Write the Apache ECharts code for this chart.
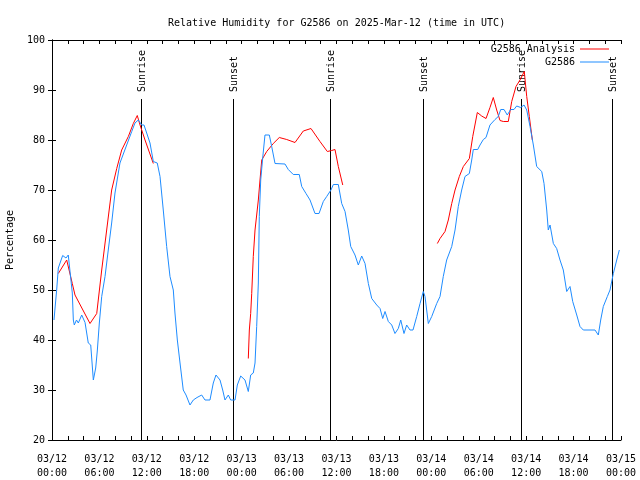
<!DOCTYPE html>
<html><head><meta charset="utf-8">
<script src="https://cdn.jsdelivr.net/npm/echarts@6/dist/echarts.min.js"></script>
<style>html,body{margin:0;padding:0;background:#fff}#c{width:640px;height:480px}</style>
</head><body><div id="c"></div>
<script>
// Hours since 2025-03-12 00:00 UTC
const obsHours = [0.25,0.59,0.80,1.35,1.77,2.06,2.28,2.57,2.70,2.82,3.10,3.33,3.76,4.18,4.59,4.90,5.23,5.53,5.73,5.99,6.29,6.49,6.71,7.12,7.55,7.97,8.60,9.45,10.09,10.50,10.92,11.35,11.64,11.98,12.40,12.82,13.32,13.67,14.08,14.51,14.93,15.35,15.56,15.86,16.20,16.61,16.96,17.46,17.88,18.35,18.94,19.36,19.99,20.41,20.75,21.26,21.60,21.89,22.31,22.61,23.16,23.45,23.88,24.42,24.84,25.14,25.47,25.69,25.90,26.11,26.23,26.41,26.66,26.95,27.50,27.80,28.22,29.48,29.90,30.53,31.29,31.60,32.14,32.65,33.28,33.79,34.33,34.76,35.30,35.60,36.23,36.66,37.08,37.49,37.80,38.34,38.76,39.19,39.61,40.03,40.46,41.09,41.51,41.85,42.14,42.56,42.99,43.40,43.82,44.13,44.54,44.88,45.30,45.68,46.15,46.57,46.98,47.20,47.62,48.05,48.68,49.10,49.51,49.94,50.58,51.00,51.41,51.84,52.26,52.81,53.11,53.31,53.87,54.16,54.58,54.92,55.42,56.06,56.47,56.78,57.20,57.61,58.04,58.46,58.80,59.31,59.73,60.07,60.49,60.91,61.33,61.97,62.26,62.60,62.80,63.02,63.44,63.86,64.28,64.70,65.13,65.55,65.89,66.40,66.81,67.23,68.71,69.13,69.43,69.76,70.27,70.61,71.03,71.46,71.79];
const obsValues = [44,50,54.4,56.9,56.4,57,57,49.4,44,43,44,43.4,45,43.5,39.4,39,32,34.4,37.8,43.4,48.7,48.7,52.7,58,63.4,69.4,75.4,79,81.7,83.4,84,83,83,81.4,79.4,75.7,75.4,72.7,66,58.7,52.7,50,45.4,40,35.4,30,29,27,28,28.5,29,28,28,31.4,33,32,30,28,29,28,28,31,32.8,32,29.7,33,33.4,35.4,42.7,51.4,64.7,72,76.4,81,81,78.7,75.3,75.2,74.1,73.1,73.1,70.7,69.3,68,65.3,65.3,67.7,68.7,70,71.1,71.1,67.3,65.7,62,58.7,57,55,56.8,55.3,51.3,48.3,47,46.3,44.3,45.7,43.7,43,41.3,42.3,44,41.3,43,42,42,44.7,47.3,49.7,48.7,43.3,44.7,47.3,48.7,52.7,56,58.7,62,66.7,70,72.7,73.3,76,78.1,78.1,79,80.1,80.5,83,84.1,84.7,86.1,86.1,85,86.1,86.1,86.8,86.5,87,86,82.7,79,74.7,73.7,71.3,66,62,63,59.3,58.3,56,54,49.7,50.7,47.7,45,42.7,42,42,41,44,46.7,48.7,50,53.3,56,58];

// Analysis (null = gap)
const anaHours = [0.80,1.86,2.57,2.91,4.81,5.66,6.29,6.92,7.55,8.19,8.82,9.66,10.29,10.79,11.14,11.77,12.82,18.0,
  24.84,24.97,25.14,25.27,25.47,25.69,26.11,26.32,26.54,27.17,28.00,28.76,29.70,30.75,31.80,32.77,33.91,34.84,35.39,35.81,36.23,36.79,42.0,
  48.76,49.10,49.73,50.15,50.58,51.00,51.54,52.05,52.81,53.24,53.82,54.37,54.92,55.42,55.84,56.27,56.69,57.11,57.74,58.17,58.71,59.22,59.76,60.07,60.40,60.78];
const anaValues = [53.3,56,51.3,49,43.3,45.3,54,62,70,74.3,78,80.7,83.3,84.9,83,80,75.3,null,
  36.3,42,45.3,49.3,56.7,62,68,72,76,77.7,79.3,80.5,80.1,79.5,81.8,82.3,79.7,77.7,77.9,78.1,74.7,71,null,
  59.3,60.3,61.7,64,67.3,70,72.7,74.7,76.3,80.7,85.5,84.8,84.3,86.5,88.5,86,83.9,83.7,83.7,87.7,90.7,92,93.7,88.7,84.7,80];

const eventHours = [11.30, 22.94, 35.20, 46.99, 59.31, 70.90];
const eventLabels = ['Sunrise','Sunset','Sunrise','Sunset','Sunrise','Sunset'];

const dayLabels = ['03/12','03/13','03/14','03/15'];
const yTicks = [20,30,40,50,60,70,80,90,100];

const FONT = 'DejaVu Sans Mono';
const markerTop = 88.2;

const chart = echarts.init(document.getElementById('c'), null, {renderer:'canvas'});
const pad = n => (n < 10 ? '0' : '') + n;
const axisCommon = {
  type:'value', min:0, max:72, interval:2,
  axisLine:{show:true, lineStyle:{color:'#000', width:1}},
  axisTick:{show:true, inside:true, length:4, lineStyle:{color:'#000'}},
  splitLine:{show:false}
};
const yCommon = {
  type:'value', min:yTicks[0], max:yTicks[yTicks.length-1], interval:10,
  axisLine:{show:true, lineStyle:{color:'#000', width:1}},
  axisTick:{show:true, inside:true, length:4, lineStyle:{color:'#000'}},
  splitLine:{show:false}
};

chart.setOption({
  animation:false,
  backgroundColor:'#fff',
  title:{text:'Relative Humidity for G2586 on 2025-Mar-12 (time in UTC)', left:163, top:13,
    textStyle:{fontFamily:FONT, fontSize:10, fontWeight:'normal', color:'#000'}},
  legend:{
    right:26, top:38, orient:'vertical', align:'right', itemWidth:29, itemHeight:1, itemGap:1,
    icon:'rect',
    textStyle:{fontFamily:FONT, fontSize:10, color:'#000', lineHeight:12},
    data:['G2586 Analysis','G2586']
  },
  grid:{left:52, right:19, top:40, bottom:40, containLabel:false, outerBoundsMode:'none'},
  xAxis:[
    Object.assign({}, axisCommon, {
      position:'bottom',
      axisLabel:{show:true, margin:12, fontFamily:FONT, fontSize:10, color:'#000', lineHeight:14,
        showMinLabel:true, showMaxLabel:true,
        formatter:function(v){
          if (v % 6 !== 0) return '';
          const d = Math.floor(v/24), h = v % 24;
          return dayLabels[d] + '\n' + pad(h) + ':00';
        }}
    }),
    Object.assign({}, axisCommon, {position:'top', axisLabel:{show:false}})
  ],
  yAxis:[
    Object.assign({}, yCommon, {
      position:'left', name:'Percentage', nameLocation:'middle', nameRotate:90, nameGap:37,
      nameTextStyle:{fontFamily:FONT, fontSize:10, color:'#000'},
      axisLabel:{show:true, margin:7, fontFamily:FONT, fontSize:10, color:'#000'}
    }),
    Object.assign({}, yCommon, {position:'right', axisLabel:{show:false}})
  ],
  series:[
    {
      name:'G2586 Analysis', type:'line', xAxisIndex:0, yAxisIndex:0,
      data: anaHours.map((h,i)=>[h, anaValues[i]]),
      symbol:'none', showSymbol:false, connectNulls:false,
      lineStyle:{color:'#ff0000', width:1}, itemStyle:{color:'#ff0000'}
    },
    {
      name:'G2586', type:'line', xAxisIndex:0, yAxisIndex:0,
      data: obsHours.map((h,i)=>[h, obsValues[i]]),
      symbol:'none', showSymbol:false,
      lineStyle:{color:'#1e8cff', width:1}, itemStyle:{color:'#1e8cff'}
    },
    {
      name:'events', type:'custom', xAxisIndex:0, yAxisIndex:0,
      data: eventHours.map(h=>[h, yTicks[0]]),
      encode:{x:0, y:1},
      silent:true,
      renderItem:function(params, api){
        const h = api.value(0);
        const top = api.coord([h, markerTop]);
        const bot = api.coord([h, yTicks[0]]);
        const x = Math.round(top[0]) + 0.5;
        return {type:'group', children:[
          {type:'line', shape:{x1:x, y1:Math.round(top[1]), x2:x, y2:bot[1]},
           style:{stroke:'#000', lineWidth:1}},
          {type:'text', x:x+1, y:Math.round(top[1])-7, rotation:Math.PI/2,
           style:{text:eventLabels[params.dataIndex], fill:'#000', font:'10px ' + FONT,
                  textAlign:'left', textVerticalAlign:'middle'}}
        ]};
      }
    }
  ]
});
</script>
</body></html>
